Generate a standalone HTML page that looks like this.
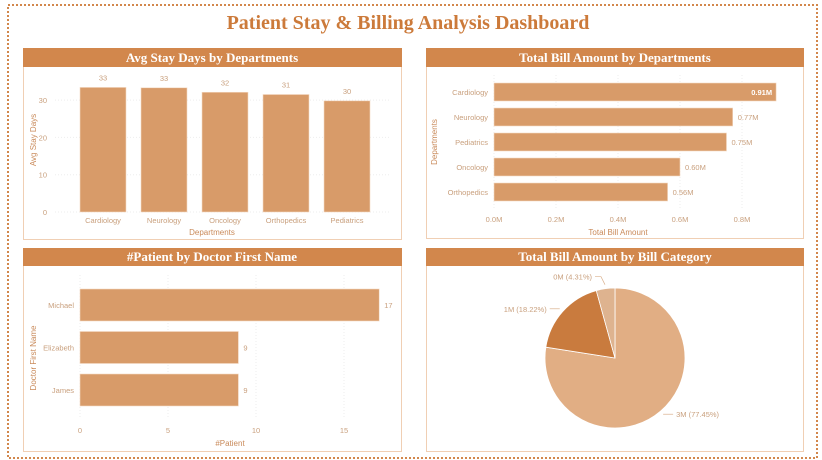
<!DOCTYPE html>
<html><head><meta charset="utf-8"><style>
html,body{margin:0;padding:0;background:#fff;}
body{width:822px;height:460px;overflow:hidden;}
svg{display:block;font-family:"Liberation Sans",sans-serif;}
</style></head><body>
<svg id="dash" width="822" height="460" viewBox="0 0 822 460">
<rect x="8" y="5" width="809" height="453" fill="none" stroke="#d2874c" stroke-width="2" stroke-dasharray="2,2"/>
<text x="408" y="29" text-anchor="middle" font-family="Liberation Serif, serif" font-weight="bold" font-size="20" fill="#cc7a3a">Patient Stay &amp; Billing Analysis Dashboard</text>

<g>
<rect x="23.5" y="48.5" width="378" height="191" fill="#fff" stroke="#f0cfb4"/>
<rect x="23" y="48" width="379" height="19" fill="#d2874c"/>
<text x="212" y="62" text-anchor="middle" font-family="Liberation Serif, serif" font-weight="bold" font-size="13" fill="#fff">Avg Stay Days by Departments</text>
<g id="c1"></g>
<text x="212" y="235" text-anchor="middle" font-size="8" fill="#c98a5a">Departments</text>
<text transform="translate(36,140) rotate(-90)" text-anchor="middle" font-size="8" fill="#c98a5a">Avg Stay Days</text>
</g>

<g>
<rect x="426.5" y="48.5" width="377" height="190" fill="#fff" stroke="#f0cfb4"/>
<rect x="426" y="48" width="378" height="19" fill="#d2874c"/>
<text x="615" y="62" text-anchor="middle" font-family="Liberation Serif, serif" font-weight="bold" font-size="13" fill="#fff">Total Bill Amount by Departments</text>
<g id="c2"></g>
<text x="618" y="235" text-anchor="middle" font-size="8" fill="#c98a5a">Total Bill Amount</text>
<text transform="translate(437,142) rotate(-90)" text-anchor="middle" font-size="8" fill="#c98a5a">Departments</text>
</g>

<g>
<rect x="23.5" y="248.5" width="378" height="203" fill="#fff" stroke="#f0cfb4"/>
<rect x="23" y="248" width="379" height="18" fill="#d2874c"/>
<text x="212" y="261" text-anchor="middle" font-family="Liberation Serif, serif" font-weight="bold" font-size="13" fill="#fff">#Patient by Doctor First Name</text>
<g id="c3"></g>
<text x="230" y="446" text-anchor="middle" font-size="8" fill="#c98a5a">#Patient</text>
<text transform="translate(36,358) rotate(-90)" text-anchor="middle" font-size="8" fill="#c98a5a">Doctor First Name</text>
</g>

<g>
<rect x="426.5" y="248.5" width="377" height="203" fill="#fff" stroke="#f0cfb4"/>
<rect x="426" y="248" width="378" height="18" fill="#d2874c"/>
<text x="615" y="261" text-anchor="middle" font-family="Liberation Serif, serif" font-weight="bold" font-size="13" fill="#fff">Total Bill Amount by Bill Category</text>
<g id="c4"></g>
</g>
</svg>
<script>
const deptCats = ["Cardiology","Neurology","Oncology","Orthopedics","Pediatrics"];
const avgStay = [33.4,33.3,32.1,31.5,29.8];
const avgStayLabels = ["33","33","32","31","30"];
const avgTicks = [0,10,20,30];

const billCats = ["Cardiology","Neurology","Pediatrics","Oncology","Orthopedics"];
const billVals = [0.91,0.77,0.75,0.60,0.56];
const billLabels = ["0.91M","0.77M","0.75M","0.60M","0.56M"];
const billTicks = [0,0.2,0.4,0.6,0.8];
const billTickLabels = ["0.0M","0.2M","0.4M","0.6M","0.8M"];

const docCats = ["Michael","Elizabeth","James"];
const docVals = [17,9,9];
const docTicks = [0,5,10,15];

const pieCats = ["3M","1M","0M"];
const piePct = [77.45,18.22,4.31];
const pieColors = ["#e1ae84","#c97b3e","#deb38f"];

const NS="http://www.w3.org/2000/svg";
function mk(parent,tag,attrs,text){const e=document.createElementNS(NS,tag);for(const k in attrs)e.setAttribute(k,attrs[k]);if(text!==undefined)e.textContent=text;parent.appendChild(e);return e;}
const BAR="#d89b69", TXT="#c9a07e";

(function(){
  const g=document.getElementById('c1');
  const y0=212, pxPer=3.73, x0=72, band=61, bw=46;
  const y=v=>y0-v*pxPer;
  avgTicks.forEach(t=>{
    const l=mk(g,'line',{x1:55,x2:390,y1:y(t),y2:y(t),stroke:"#eee","stroke-dasharray":"1,2"});
    
    
    const tx=mk(g,'text',{x:47,y:y(t)+3,"text-anchor":"end","font-size":7.5,fill:TXT},String(t));
    
    
  });
  deptCats.forEach((c,i)=>{
    const x=x0+8+i*band, v=avgStay[i];
    const r=mk(g,'rect',{x:x,y:y(v),width:bw,height:y0-y(v),fill:BAR,stroke:"#f3d9c3","stroke-width":0.6});
    
    
    const lb=mk(g,'text',{x:x+bw/2,y:y(v)-7,"text-anchor":"middle","font-size":7.5,fill:TXT},avgStayLabels[i]);
    
    
    const cl=mk(g,'text',{x:x+bw/2,y:223,"text-anchor":"middle","font-size":7.5,fill:TXT},c);
    
    
  });
})();

(function(){
  const g=document.getElementById('c2');
  const x0=494, pxPer=310, top=83, step=25, bh=18;
  const x=v=>x0+v*pxPer;
  billTicks.forEach((t,i)=>{
    const l=mk(g,'line',{x1:x(t),x2:x(t),y1:75,y2:208,stroke:"#eee","stroke-dasharray":"1,2"});
    
    
    const tx=mk(g,'text',{x:x(t),y:222,"text-anchor":"middle","font-size":7.5,fill:TXT},billTickLabels[i]);
    
    
  });
  billCats.forEach((c,i)=>{
    const yy=top+i*step, v=billVals[i];
    const r=mk(g,'rect',{x:x0,y:yy,width:x(v)-x0,height:bh,fill:BAR,stroke:"#f3d9c3","stroke-width":0.6});
    
    
    const inside = x(v)>760;
    const lb=mk(g,'text',{x:inside?x(v)-4:x(v)+5,y:yy+12,"text-anchor":inside?"end":"start","font-size":7.5,fill:inside?"#fff":TXT,"font-weight":inside?"bold":"normal"},billLabels[i]);
    
    
    const cl=mk(g,'text',{x:488,y:yy+12,"text-anchor":"end","font-size":7.5,fill:TXT},c);
    
    
  });
})();

(function(){
  const g=document.getElementById('c3');
  const x0=80, pxPer=17.6, top=289, step=42.5, bh=32;
  const x=v=>x0+v*pxPer;
  docTicks.forEach(t=>{
    const l=mk(g,'line',{x1:x(t),x2:x(t),y1:275,y2:418,stroke:"#eee","stroke-dasharray":"1,2"});
    
    
    const tx=mk(g,'text',{x:x(t),y:433,"text-anchor":"middle","font-size":7.5,fill:TXT},String(t));
    
    
  });
  docCats.forEach((c,i)=>{
    const yy=top+i*step, v=docVals[i];
    const r=mk(g,'rect',{x:x0,y:yy,width:x(v)-x0,height:bh,fill:BAR,stroke:"#f3d9c3","stroke-width":0.6});
    
    
    const lb=mk(g,'text',{x:x(v)+5,y:yy+19,"font-size":7.5,fill:TXT},String(v));
    
    
    const cl=mk(g,'text',{x:74,y:yy+19,"text-anchor":"end","font-size":7.5,fill:TXT},c);
    
    
  });
})();

(function(){
  const g=document.getElementById('c4');
  const cx=615, cy=358, R=70;
  const total=piePct.reduce((a,b)=>a+b,0);
  let a=-Math.PI/2;
  piePct.forEach((p,i)=>{
    const da=p/total*2*Math.PI, a2=a+da;
    const x1=cx+R*Math.cos(a), y1=cy+R*Math.sin(a), x2=cx+R*Math.cos(a2), y2=cy+R*Math.sin(a2);
    const path=mk(g,'path',{d:`M${cx},${cy} L${x1},${y1} A${R},${R} 0 ${da>Math.PI?1:0} 1 ${x2},${y2} Z`,fill:pieColors[i],stroke:"#fff","stroke-width":0.8});
    
    
    const mid=(a+a2)/2;
    const px=cx+(R+4)*Math.cos(mid), py=cy+(R+4)*Math.sin(mid);
    const right=Math.cos(mid)>=0;
    const ex=px+(right?10:-10);
    let ly=py;
    if(!right && Math.sin(mid)<-0.9){ly=py-8;}
    const ln=mk(g,'polyline',{points:`${px},${py} ${px+(right?4:-4)},${ly} ${ex},${ly}`,fill:"none",stroke:"#d9b08c","stroke-width":0.7});
    
    
    const lb=mk(g,'text',{x:ex+(right?3:-3),y:ly+3,"text-anchor":right?"start":"end","font-size":7.5,fill:TXT},pieCats[i]+" ("+p.toFixed(2)+"%)");
    
    
    a=a2;
  });
})();
</script>
</body></html>
